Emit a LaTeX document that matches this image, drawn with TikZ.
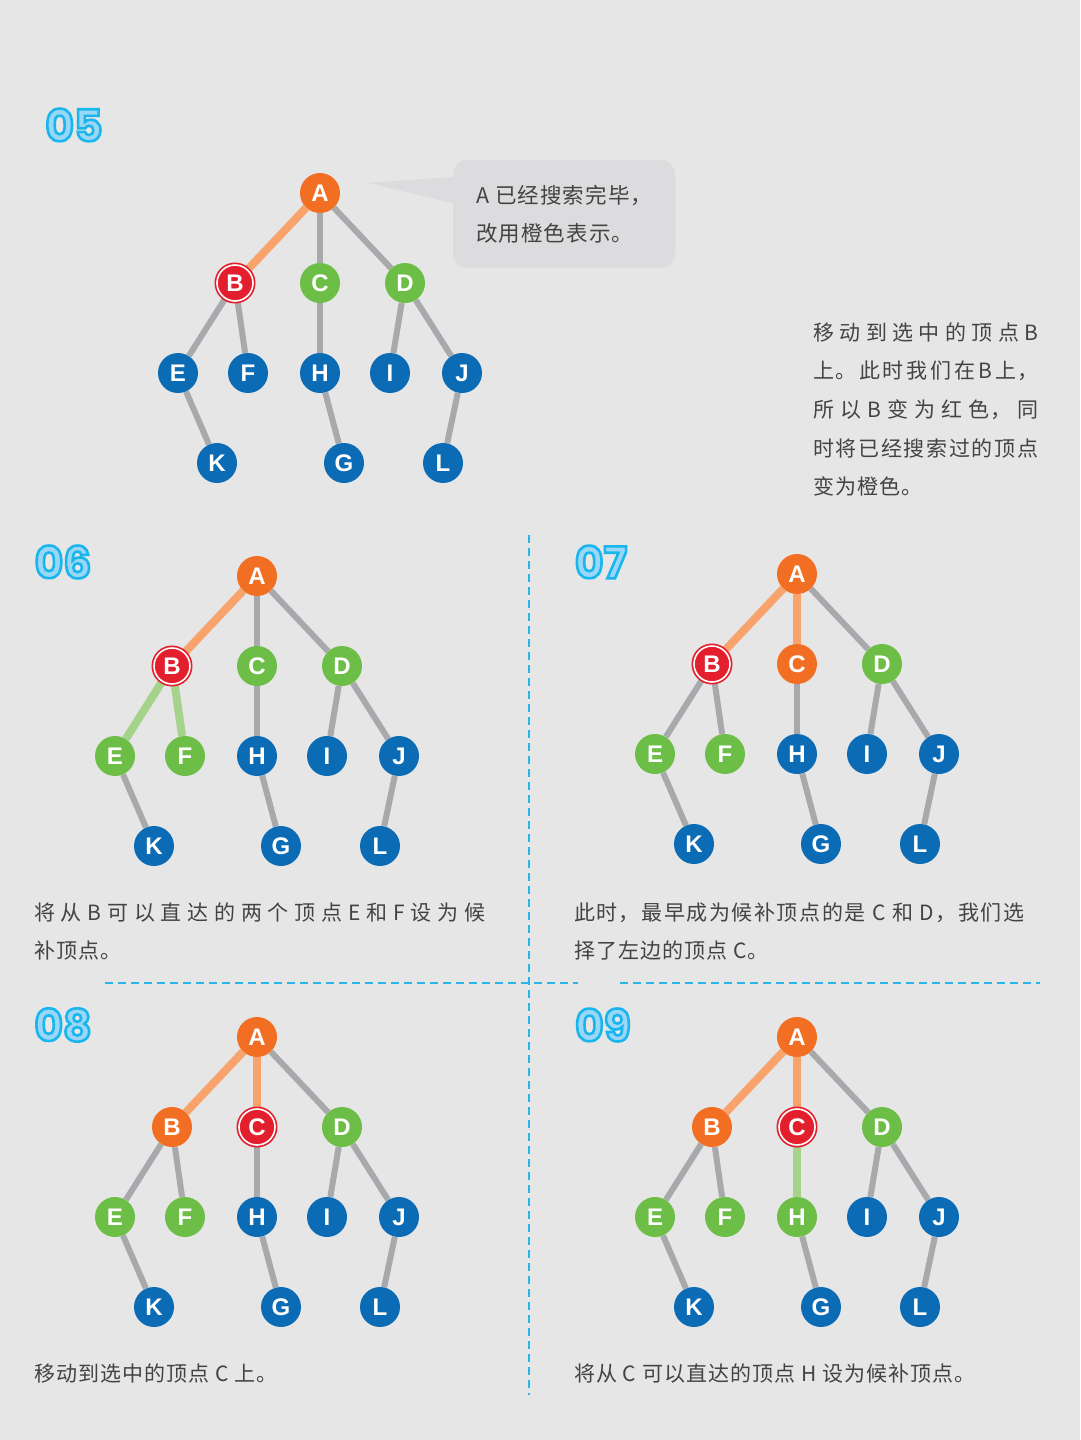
\documentclass[tikz,border=0pt]{standalone}
\usepackage{fontspec}
\setmainfont{Noto Sans CJK SC}[LetterSpace=5]
\newfontfamily\vtxfont{Liberation Sans}
\newfontfamily\numfont{Poppins}
\usetikzlibrary{calc}
\definecolor{bgc}{HTML}{E6E6E6}
\definecolor{bubblec}{HTML}{DCDCDE}
\definecolor{vorange}{HTML}{F26E22}
\definecolor{vred}{HTML}{E31E2D}
\definecolor{vgreen}{HTML}{6DBE46}
\definecolor{vblue}{HTML}{0B6CB5}
\definecolor{egray}{HTML}{A7A9AC}
\definecolor{eorange}{HTML}{F8A26C}
\definecolor{egreen}{HTML}{A6D38B}
\definecolor{ink}{HTML}{434343}
\definecolor{guidec}{HTML}{29B5E8}
\definecolor{numin}{HTML}{9AD7F7}
\pgfdeclarelayer{bg}
\pgfdeclarelayer{edges}
\pgfsetlayers{bg,edges,main}

% tree shape, relative to A (y grows downwards)
\def\treepos{A/0/0,B/-85/90,C/0/90,D/85/90,E/-142/180,F/-72/180,H/0/180,I/70/180,J/142/180,K/-103/270,G/24/270,L/123/270}
\def\treeedges{A/B,A/C,A/D,B/E,B/F,C/H,D/I,D/J,E/K,H/G,J/L}

\newcommand{\gtree}[3]{%
  \begin{scope}[shift={#2}, #3]
    \foreach \n/\x/\y in \treepos
      \node[vtx, st\n/.try] (t#1\n) at (\x,\y) {\n};
    \begin{pgfonlayer}{edges}
      \foreach \a/\b in \treeedges
        \draw[edge, e\a\b/.try] (t#1\a) -- (t#1\b);
    \end{pgfonlayer}
  \end{scope}}

% outlined step number: light fill, cyan stroke
\newcommand{\outlined}[1]{{\color{numin}\special{pdf:literal direct q 2 Tr 2.6 w 0.10 0.71 0.93 RG}#1\special{pdf:literal direct Q}}}
% justified line: spaces stretch to fill the width
\newcommand{\justline}[3][0pt]{\makebox[#2][s]{\spaceskip=#1 plus 1fil\relax #3}}

\begin{document}
\begin{tikzpicture}[x=1pt, y=-1pt,
  vtx/.style={circle, fill=vblue, minimum size=40, inner sep=0, text=white, font=\vtxfont\bfseries\fontsize{24}{24}\selectfont},
  done/.style={fill=vorange},
  cand/.style={fill=vgreen},
  cur/.style={fill=vred, draw=vred, double=white, double distance=1.6, line width=1.7, minimum size=36},
  edge/.style={draw=egray, line width=6},
  doneedge/.style={draw=eorange, line width=8},
  candedge/.style={draw=egreen, line width=8},
  num/.style={font=\numfont\bfseries\fontsize{44}{44}\selectfont, inner sep=0},
  body/.style={anchor=base west, inner sep=0, text=ink, font=\fontsize{21}{25}\selectfont},
  bubbletext/.style={body, font=\fontsize{21.5}{26}\selectfont},
  guide/.style={draw=guidec, line width=1.5, dash pattern=on 8 off 5}
]
\useasboundingbox (0,0) rectangle (1080,1440);
\begin{pgfonlayer}{bg}
  \fill[bgc] (0,0) rectangle (1080,1440);
\end{pgfonlayer}

% ---- panel separators
\draw[guide] (529,535) -- (529,1395);
\draw[guide] (105,983) -- (578,983);
\draw[guide] (620,983) -- (1040,983);

% ---- step numbers
\node[num] (n05) at (74,125) {\outlined{05}};
\node[num] (n06) at (63,562) {\outlined{06}};
\node[num] (n07) at (601,562) {\outlined{07}};
\node[num] (n08) at (63,1025) {\outlined{08}};
\node[num] (n09) at (603,1025) {\outlined{09}};

% ---- 05
\gtree{5}{(320,193)}{stA/.style=done, stB/.style=cur, stC/.style=cand, stD/.style=cand, eAB/.style=doneedge}
\node[fill=bubblec, rounded corners=14, minimum width=222, minimum height=108] (bubble) at (564,214) {};
\coordinate (tip) at (368,183);
\fill[bubblec] (tip) -- ($(bubble.west)+(12,-38)$) -- ($(bubble.west)+(12,-8)$) -- cycle;
\node[bubbletext] (b1) at (476,203) {A 已经搜索完毕，};
\node[bubbletext] (b2) at (476,241) {改用橙色表示。};
\node[body] (r1) at (813,340) {\justline{225pt}{移 动 到 选 中 的 顶 点 B}};
\node[body] (r2) at (813,378) {\justline{225pt}{上。 此 时 我 们 在 B 上，}};
\node[body] (r3) at (813,417) {\justline{225pt}{所 以 B 变 为 红 色， 同}};
\node[body] (r4) at (813,456) {\justline{225pt}{时 将 已 经 搜 索 过 的 顶 点}};
\node[body] (r5) at (813,494) {变为橙色。};

% ---- 06
\gtree{6}{(257,576)}{stA/.style=done, stB/.style=cur, stC/.style=cand, stD/.style=cand, stE/.style=cand, stF/.style=cand, eAB/.style=doneedge, eBE/.style=candedge, eBF/.style=candedge}
\node[body] (s1) at (34,920) {\justline{451pt}{将 从 B 可 以 直 达 的 两 个 顶 点 E 和 F 设 为 候}};
\node[body] (s2) at (34,958) {补顶点。};

% ---- 07
\gtree{7}{(797,574)}{stA/.style=done, stB/.style=cur, stC/.style=done, stD/.style=cand, stE/.style=cand, stF/.style=cand, eAB/.style=doneedge, eAC/.style=doneedge}
\node[body] (u1) at (574,920) {\justline{450pt}{此 时， 最 早 成 为 候 补 顶 点 的 是\hspace{5pt} C\hspace{5pt} 和\hspace{5pt} D， 我 们 选}};
\node[body] (u2) at (574,958) {择了左边的顶点 C。};

% ---- 08
\gtree{8}{(257,1037)}{stA/.style=done, stB/.style=done, stC/.style=cur, stD/.style=cand, stE/.style=cand, stF/.style=cand, eAB/.style=doneedge, eAC/.style=doneedge}
\node[body] (v1) at (34,1381) {移动到选中的顶点 C 上。};

% ---- 09
\gtree{9}{(797,1037)}{stA/.style=done, stB/.style=done, stC/.style=cur, stD/.style=cand, stE/.style=cand, stF/.style=cand, stH/.style=cand, eAB/.style=doneedge, eAC/.style=doneedge, eCH/.style=candedge}
\node[body] (w1) at (574,1381) {将从 C 可以直达的顶点 H 设为候补顶点。};
\end{tikzpicture}
\end{document}
